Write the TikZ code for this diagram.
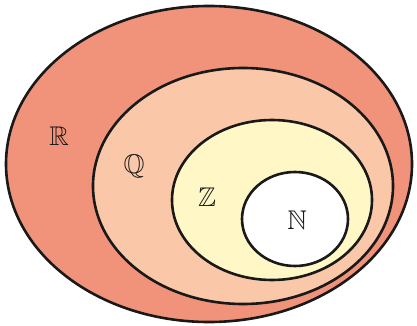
\documentclass[tikz,border=0pt]{standalone}
\usepackage{amssymb}
\usetikzlibrary{shapes.geometric}
\definecolor{rcol}{HTML}{F0937A}
\definecolor{qcol}{HTML}{FAC8A8}
\definecolor{zcol}{HTML}{FFF8C6}
\tikzset{
  setell/.style={ellipse, draw=black!90, line width=2.6pt, inner sep=0pt},
  setlab/.style={font=\fontsize{27}{29}\selectfont, text=black!90}
}
\begin{document}
\begin{tikzpicture}[x=1pt,y=-1pt]
\useasboundingbox (0,0) rectangle (417,326);
\node[setell, fill=rcol, minimum width=406pt, minimum height=316pt] (R) at (209,164) {};
\node[setell, fill=qcol, minimum width=300pt, minimum height=236pt] (Q) at (243,186) {};
\node[setell, fill=zcol, minimum width=200pt, minimum height=160pt] (Z) at (272,200) {};
\node[setell, fill=white, minimum width=106pt, minimum height=94pt] (N) at (295,219) {};
\node[setlab] (lR) at (59,136) {$\mathbb{R}$};
\node[setlab] (lQ) at (134,166) {$\mathbb{Q}$};
\node[setlab] (lZ) at (207,197) {$\mathbb{Z}$};
\node[setlab] (lN) at (297,220) {$\mathbb{N}$};
\end{tikzpicture}
\end{document}
